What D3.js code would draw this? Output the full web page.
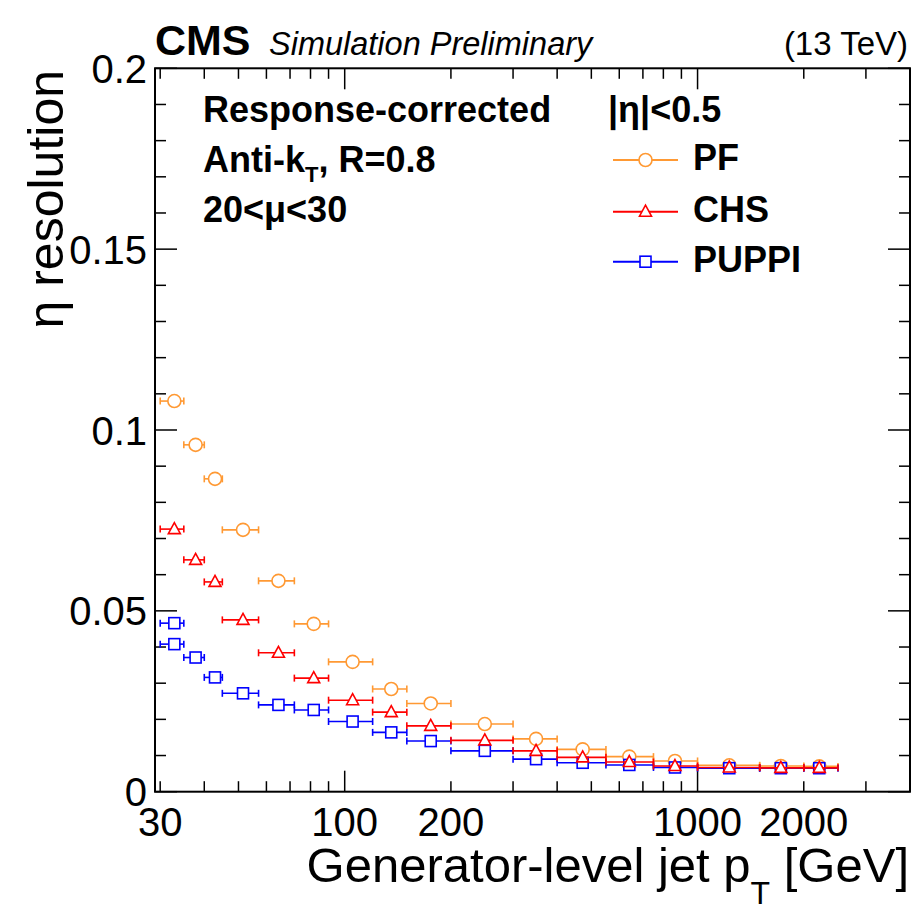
<!DOCTYPE html>
<html>
<head>
<meta charset="utf-8">
<script src="https://cdn.jsdelivr.net/npm/d3@7"></script>
<style>
  body { margin: 0; background: #fff; }
  svg { display: block; font-family: "Liberation Sans", Arial, Helvetica, sans-serif; }
</style>
</head>
<body>
<svg id="chart"></svg>
<script>
// jet pT bins (GeV) and mean generator-level pT inside each bin
const binEdges = [30, 35, 40, 45, 57, 72, 90, 120, 150, 200, 300, 400, 550, 750, 1000, 1500, 2000, 2500];
const ptMean = [32.9, 37.8, 42.9, 51.5, 64.9, 81.7, 105.3, 135.5, 175.3, 249.5, 348.6, 472.5, 640.6, 863, 1230, 1722, 2213];

// eta resolution per bin
const pfRes = [0.1080, 0.0959, 0.0865, 0.0724, 0.0583, 0.0464, 0.0359, 0.0284, 0.0244, 0.0187, 0.0146, 0.0117, 0.0097, 0.0085, 0.0073, 0.0071, 0.0070];
const chsRes = [0.0726, 0.0641, 0.0580, 0.0475, 0.0384, 0.0314, 0.0253, 0.0220, 0.0182, 0.0142, 0.0113, 0.0095, 0.0082, 0.0071, 0.0067, 0.0066, 0.0066];
// PUPPI has two entries in the first bin
const puppiBins = [0, 0, 1, 2, 3, 4, 5, 6, 7, 8, 9, 10, 11, 12, 13, 14, 15, 16];
const puppiRes = [0.0466, 0.0408, 0.0371, 0.0316, 0.0272, 0.0240, 0.0226, 0.0194, 0.0164, 0.0140, 0.0113, 0.0090, 0.0080, 0.0074, 0.0067, 0.0065, 0.0065, 0.0065];

const xTicks = [30, 40, 50, 60, 70, 80, 90, 100, 200, 300, 400, 500, 600, 700, 800, 900, 1000, 2000, 3000];
const xMajor = [100, 1000];
const xLabels = [30, 100, 200, 1000, 2000];
const yLabels = [0, 0.05, 0.1, 0.15, 0.2];

const W = 923, H = 907;
const padL = 155, padR = 910, padT = 68.3, padB = 791.7;

const svg = d3.select('#chart').attr('width', W).attr('height', H);

const x = d3.scaleLog().domain([29, 4000]).range([padL, padR]);
const y = d3.scaleLinear().domain([0, 0.2]).range([padB, padT]);

// ticks (ROOT style, inside, mirrored on all sides)
const ax = svg.append('g').attr('stroke', '#000').attr('stroke-width', 1.5);
xTicks.forEach(t => {
  let len = xMajor.includes(t) ? 21 : 10.5;
  ax.append('line').attr('x1', x(t)).attr('x2', x(t)).attr('y1', padB).attr('y2', padB - len);
  ax.append('line').attr('x1', x(t)).attr('x2', x(t)).attr('y1', padT).attr('y2', padT + len);
});
d3.range(0, 21).forEach(i => {
  let v = i * 0.01;
  let len = (i % 5 === 0) ? 22 : 11;
  ax.append('line').attr('x1', padL).attr('x2', padL + len).attr('y1', y(v)).attr('y2', y(v));
  ax.append('line').attr('x1', padR).attr('x2', padR - len).attr('y1', y(v)).attr('y2', y(v));
});

svg.append('rect')
  .attr('x', padL).attr('y', padT)
  .attr('width', padR - padL).attr('height', padB - padT)
  .attr('fill', 'none').attr('stroke', '#000').attr('stroke-width', 2);

// tick labels
svg.append('g').selectAll('text')
  .data(xLabels).enter().append('text')
  .attr('x', d => x(d)).attr('y', 836)
  .attr('text-anchor', 'middle').attr('font-size', 40)
  .text(d => d);

svg.append('g').selectAll('text')
  .data(yLabels).enter().append('text')
  .attr('x', 147).attr('y', d => y(d) + 14.5)
  .attr('text-anchor', 'end').attr('font-size', 40)
  .text(d => d);

// axis titles
let xt = svg.append('text').attr('x', 909).attr('y', 882).attr('text-anchor', 'end').attr('font-size', 49);
xt.append('tspan').text('Generator-level jet p');
xt.append('tspan').attr('font-size', 32).attr('dy', 22).text('T');
xt.append('tspan').attr('dy', -22).text(' [GeV]');

svg.append('text')
  .attr('transform', 'translate(63,70) rotate(-90)')
  .attr('text-anchor', 'end').attr('font-size', 50)
  .text('\u03b7 resolution');

// header
svg.append('text').attr('x', 155).attr('y', 55).attr('font-size', 43).attr('font-weight', 'bold').text('CMS');
svg.append('text').attr('x', 269).attr('y', 55).attr('font-size', 32.5).attr('font-style', 'italic').text('Simulation Preliminary');
svg.append('text').attr('x', 908).attr('y', 55).attr('font-size', 33).attr('text-anchor', 'end').text('(13 TeV)');

// in-plot labels
const lab = svg.append('g').attr('font-size', 36).attr('font-weight', 'bold');
lab.append('text').attr('x', 203).attr('y', 121.7).text('Response-corrected');
lab.append('text').attr('x', 608).attr('y', 121.7).text('|\u03b7|<0.5');
let ak = lab.append('text').attr('x', 203).attr('y', 171.7);
ak.append('tspan').text('Anti-k');
ak.append('tspan').attr('font-size', 22).attr('dy', 10).text('T');
ak.append('tspan').attr('dy', -10).text(', R=0.8');
lab.append('text').attr('x', 203).attr('y', 221.7).text('20<\u03bc<30');

// markers
function drawMarker(g, shape, cx, cy, color) {
  if (shape === 'circle') {
    g.append('circle').attr('cx', cx).attr('cy', cy).attr('r', 6.5)
      .attr('fill', '#fff').attr('stroke', color).attr('stroke-width', 1.6);
  } else if (shape === 'triangle') {
    g.append('path')
      .attr('d', `M${cx},${cy - 6.5}L${cx + 6},${cy + 4.5}L${cx - 6},${cy + 4.5}Z`)
      .attr('fill', '#fff').attr('stroke', color).attr('stroke-width', 1.6);
  } else {
    g.append('rect').attr('x', cx - 5.5).attr('y', cy - 5.5).attr('width', 11).attr('height', 11)
      .attr('fill', '#fff').attr('stroke', color).attr('stroke-width', 1.6);
  }
}

function drawSeries(bins, vals, shape, color) {
  const g = svg.append('g');
  bins.forEach((b, i) => {
    let cy = y(vals[i]);
    let x0 = x(binEdges[b]), x1 = x(binEdges[b + 1]);
    g.append('line').attr('x1', x0).attr('x2', x1).attr('y1', cy).attr('y2', cy)
      .attr('stroke', color).attr('stroke-width', 1.6);
    [x0, x1].forEach(xe => {
      g.append('line').attr('x1', xe).attr('x2', xe).attr('y1', cy - 3.5).attr('y2', cy + 3.5)
        .attr('stroke', color).attr('stroke-width', 1.6);
    });
  });
  bins.forEach((b, i) => drawMarker(g, shape, x(ptMean[b]), y(vals[i]), color));
}

const pfColor = '#ff9933', chsColor = '#ff0000', puppiColor = '#0000ff';
drawSeries(d3.range(pfRes.length), pfRes, 'circle', pfColor);
drawSeries(puppiBins, puppiRes, 'square', puppiColor);
drawSeries(d3.range(chsRes.length), chsRes, 'triangle', chsColor);

// legend
const legend = [
  {name: 'PF', shape: 'circle', color: pfColor, y: 170},
  {name: 'CHS', shape: 'triangle', color: chsColor, y: 221.7},
  {name: 'PUPPI', shape: 'square', color: puppiColor, y: 271.7}
];
legend.forEach(l => {
  const g = svg.append('g');
  g.append('line').attr('x1', 613).attr('x2', 678).attr('y1', l.y - 10).attr('y2', l.y - 10)
    .attr('stroke', l.color).attr('stroke-width', 2);
  drawMarker(g, l.shape, 645.5, l.y - 10, l.color);
  g.append('text').attr('x', 693).attr('y', l.y).attr('font-size', 36).attr('font-weight', 'bold').text(l.name);
});
</script>
</body>
</html>
